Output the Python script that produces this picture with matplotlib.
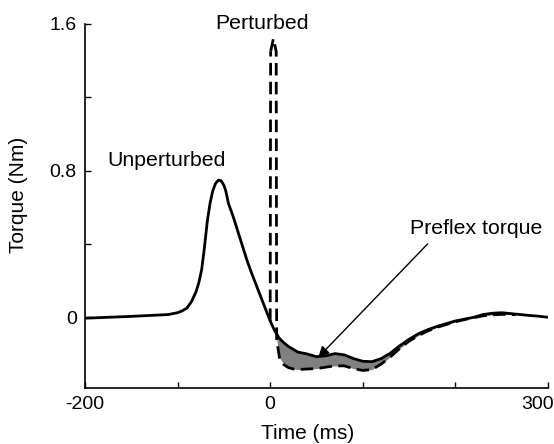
import numpy as np
import matplotlib
matplotlib.use("Agg")
import matplotlib.pyplot as plt
from matplotlib.transforms import ScaledTranslation

plt.rcParams['font.family'] = ['Liberation Sans', 'DejaVu Sans']
plt.rcParams['font.size'] = 14

# Unperturbed torque (solid), time in ms, torque in Nm
t_unpert = [-200, -150, -110, -100, -95, -90, -85, -80, -77, -74, -71, -68, -65,
            -62, -59, -56, -53, -50, -48, -45, -40, -35, -30, -25, -20, -15, -10,
            -5, 0, 5, 10, 15, 20, 25, 30, 40, 50, 60, 70, 80, 90, 100, 110, 120,
            130, 140, 150, 160, 170, 180, 190, 200, 210, 220, 230, 240, 250, 260,
            270, 280, 290, 300]
y_unpert = [-0.005, 0.005, 0.015, 0.025, 0.035, 0.05, 0.085, 0.14, 0.19, 0.26,
            0.38, 0.52, 0.62, 0.69, 0.73, 0.748, 0.745, 0.72, 0.69, 0.62, 0.55,
            0.47, 0.39, 0.31, 0.24, 0.175, 0.11, 0.045, -0.02, -0.075, -0.115,
            -0.14, -0.16, -0.175, -0.19, -0.2, -0.215, -0.21, -0.198, -0.205,
            -0.225, -0.24, -0.242, -0.225, -0.195, -0.155, -0.12, -0.09, -0.068,
            -0.05, -0.035, -0.02, -0.01, 0.0, 0.015, 0.022, 0.025, 0.02, 0.015,
            0.01, 0.006, 0.0]

# Perturbed torque (dashed)
t_pert = [0, 0.5, 3.5, 6.5, 7, 10, 15, 20, 25, 30, 40, 50, 60, 70, 80, 90, 100,
          110, 120, 130, 140, 150, 160, 170, 180, 190, 200, 210, 220, 230, 240,
          250, 260, 265]
y_pert = [-0.02, 1.45, 1.52, 1.45, -0.12, -0.22, -0.26, -0.275, -0.282, -0.285,
          -0.282, -0.28, -0.272, -0.265, -0.265, -0.28, -0.29, -0.285, -0.255,
          -0.215, -0.17, -0.13, -0.1, -0.075, -0.055, -0.04, -0.025, -0.012,
          -0.002, 0.008, 0.013, 0.016, 0.015, 0.014]

x_ticks = [-200, -100, 0, 100, 200, 300]
x_ticklabels = ['-200', '', '0', '', '', '300']
y_ticks = [0, 0.4, 0.8, 1.2, 1.6]
y_ticklabels = ['0', '', '0.8', '', '1.6']

fig = plt.figure(figsize=(5.54, 4.44), dpi=100)
ax = fig.add_axes([0.1534, 0.126, 0.8357, 0.820])

# shaded preflex area between the two traces
t_p = np.array(t_pert[4:])
y_p = np.array(y_pert[4:])
y_u = np.interp(t_p, t_unpert, y_unpert)
ax.fill_between(t_p, y_p, y_u, color='#808080', lw=0)

dash = (0, (4.5, 2.3))
# rising edge of the spike, then the rest of the perturbed trace
ax.plot(t_pert[:2], y_pert[:2], color='black', lw=2, ls=dash, snap=False)
ax.plot(t_pert[1:], y_pert[1:], color='black', lw=2, ls=dash, snap=False)
ax.plot(t_unpert, y_unpert, color='black', lw=2)

ax.annotate('', xy=(52, -0.218), xytext=(170, 0.40),
            arrowprops=dict(arrowstyle='-|>', color='black', lw=1,
                            mutation_scale=16, shrinkA=0, shrinkB=0))
ax.text(151, 0.485, 'Preflex torque', ha='left', va='center', fontsize=15.3)
ax.text(-176, 0.855, 'Unperturbed', ha='left', va='center', fontsize=15.3)
ax.text(-9, 1.605, 'Perturbed', ha='center', va='center', clip_on=False,
        fontsize=15.3)

ax.set_xlim(-200, 300)
ax.set_ylim(-0.386, 1.6)
ax.set_xticks(x_ticks)
ax.set_xticklabels(x_ticklabels)
ax.set_yticks(y_ticks)
ax.set_yticklabels(y_ticklabels)
ax.tick_params(direction='in', length=4, width=1, pad=6)

# last x label sits a bit left of its tick, like in the original
lbl = ax.get_xticklabels()[-1]
lbl.set_transform(lbl.get_transform() + ScaledTranslation(-0.10, 0, fig.dpi_scale_trans))

for side in ['top', 'right']:
    ax.spines[side].set_visible(False)
for side in ['left', 'bottom']:
    ax.spines[side].set_linewidth(1.2)

ax.set_xlabel('Time (ms)', fontsize=15)
ax.set_ylabel('Torque (Nm)', fontsize=15)
ax.xaxis.set_label_coords(0.48, -0.10)
ax.yaxis.set_label_coords(-0.123, 0.53)

fig.savefig('out.png', dpi=100)
